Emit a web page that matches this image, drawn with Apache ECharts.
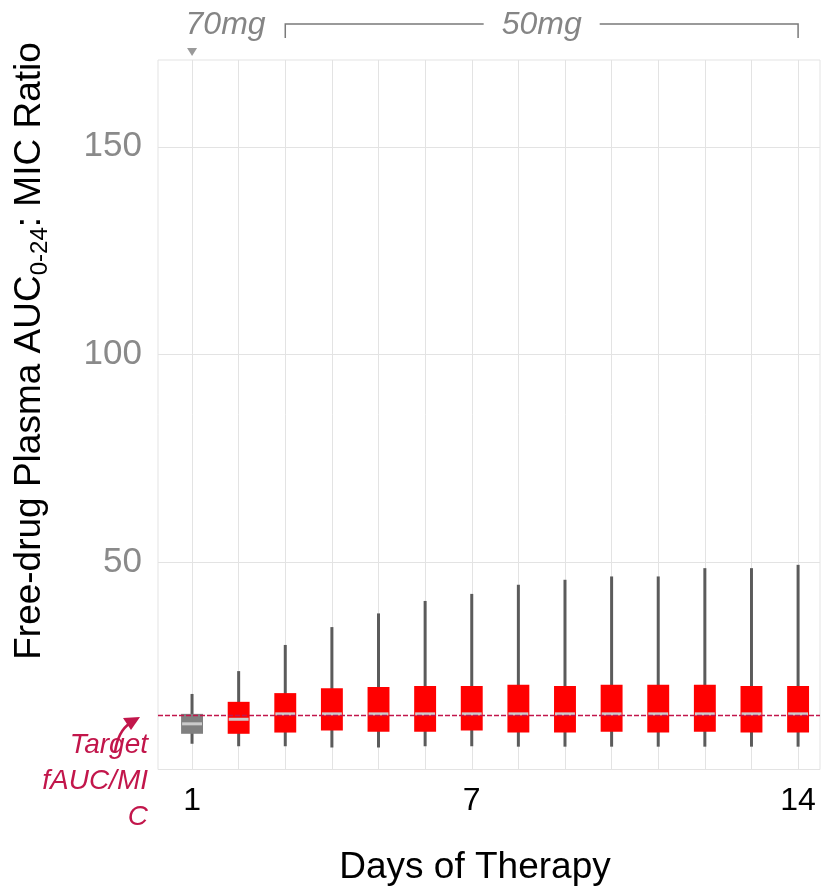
<!DOCTYPE html>
<html>
<head>
<meta charset="utf-8">
<script src="https://cdn.jsdelivr.net/npm/echarts@6/dist/echarts.min.js"></script>
<style>
  html, body { margin: 0; padding: 0; background: #ffffff; }
  #chart { width: 821px; height: 887px; }
</style>
</head>
<body>
<div id="chart"></div>
<script>
// Simulated free-drug plasma AUC0-24:MIC ratio by day of therapy
const days        = [1, 2, 3, 4, 5, 6, 7, 8, 9, 10, 11, 12, 13, 14];
const whiskerLow  = [6.2, 5.6, 5.6, 5.3, 5.3, 5.6, 5.6, 5.5, 5.5, 5.5, 5.5, 5.5, 5.5, 5.5];
const q1          = [8.6, 8.6, 8.9, 9.4, 9.1, 9.1, 9.4, 8.9, 8.9, 9.1, 8.9, 9.1, 8.9, 8.9];
const median      = [11.0, 12.1, 13.4, 13.4, 13.4, 13.4, 13.4, 13.4, 13.4, 13.4, 13.4, 13.4, 13.4, 13.4];
const q3          = [13.4, 16.3, 18.4, 19.6, 19.9, 20.1, 20.1, 20.4, 20.1, 20.4, 20.4, 20.4, 20.1, 20.1];
const whiskerHigh = [18.2, 23.7, 30.0, 34.3, 37.6, 40.6, 42.3, 44.5, 45.7, 46.5, 46.5, 48.5, 48.5, 49.3];
const dose        = ['70mg', '50mg', '50mg', '50mg', '50mg', '50mg', '50mg', '50mg', '50mg', '50mg', '50mg', '50mg', '50mg', '50mg'];
const targetRatio = 13.1;

const xTickDays  = [1, 2, 3, 4, 5, 6, 7, 8, 9, 10, 11, 12, 13, 14];
const xLabelDays = [1, 7, 14];
const yTickVals  = [50, 100, 150];

const doseColor = { '70mg': '#808080', '50mg': '#ff0000' };
const FONT = "'Liberation Sans', Arial, Helvetica, sans-serif";
const CRIMSON = '#c2164b';
const ANNOT_GREY = '#858585';

const chart = echarts.init(document.getElementById('chart'), null, { renderer: 'canvas' });

const boxData = days.map((d, i) => [d, whiskerLow[i], q1[i], median[i], q3[i], whiskerHigh[i], dose[i] === '70mg' ? 0 : 1]);

// Whisker line, filled inter-quartile box and a light median band per day
function renderBox(params, api) {
  const x = api.value(0);
  const lo = api.coord([x, api.value(1)]);
  const b1 = api.coord([x, api.value(2)]);
  const md = api.coord([x, api.value(3)]);
  const b3 = api.coord([x, api.value(4)]);
  const hi = api.coord([x, api.value(5)]);
  const fill = api.value(6) === 0 ? doseColor['70mg'] : doseColor['50mg'];
  const w = api.size([0.47, 0])[0];
  return {
    type: 'group',
    children: [
      { type: 'line', shape: { x1: lo[0], y1: lo[1], x2: hi[0], y2: hi[1] },
        style: { stroke: '#5b5b5b', lineWidth: 3 } },
      { type: 'rect', shape: { x: b3[0] - w / 2, y: b3[1], width: w, height: b1[1] - b3[1] },
        style: { fill: fill } },
      { type: 'rect', shape: { x: md[0] - w / 2 + 1, y: md[1] - 1.5, width: w - 2, height: 3 },
        style: { fill: '#cbcbcb' } }
    ]
  };
}

const option = {
  animation: false,
  backgroundColor: '#ffffff',
  grid: {
    left: 158, top: 60, width: 662, height: 709.5,
    show: true, borderColor: '#e3e3e3', borderWidth: 1,
    containLabel: false, outerBoundsMode: 'none'
  },
  xAxis: {
    type: 'value', min: 0.27, max: 14.47,
    axisLine: { show: false },
    axisTick: { show: false, customValues: xTickDays },
    axisLabel: {
      customValues: xLabelDays, color: '#000000', fontSize: 32, fontFamily: FONT, margin: 16
    },
    splitLine: { show: true, lineStyle: { color: '#e3e3e3', width: 1 } }
  },
  yAxis: {
    type: 'value', min: 0, max: 170.9,
    axisLine: { show: false },
    axisTick: { show: false, customValues: yTickVals },
    axisLabel: {
      customValues: yTickVals, color: '#8a8a8a', fontSize: 35, fontFamily: FONT, margin: 16
    },
    splitLine: { show: true, lineStyle: { color: '#e3e3e3', width: 1 } }
  },
  series: [
    {
      type: 'line', data: [], z: 1, silent: true,
      markLine: {
        silent: true, symbol: 'none', animation: false,
        label: { show: false },
        lineStyle: { color: CRIMSON, type: [5, 2], width: 1.3 },
        data: [{ yAxis: targetRatio }]
      }
    },
    {
      type: 'custom', z: 3, renderItem: renderBox, data: boxData,
      encode: { x: 0, y: [1, 2, 3, 4, 5] }
    }
  ]
};

chart.setOption(option);

// Annotations positioned from the axes' own scales
const px = (x, y) => chart.convertToPixel({ gridIndex: 0 }, [x, y]);
const day1 = px(1, 0)[0];
const day3 = px(3, 0)[0];
const day14 = px(14, 0)[0];
const label70 = px(1.72, 0)[0];
const bracketMid = (day3 + day14) / 2;
const targetY = px(1, targetRatio)[1];
const gridLeft = 158;

const tipX = gridLeft - 18, tipY = targetY + 2;

chart.setOption({
  graphic: [
    // axis titles
    {
      type: 'text', x: 475, y: 868,
      style: { text: 'Days of Therapy', align: 'center', verticalAlign: 'middle', fontSize: 37, fontFamily: FONT, fill: '#000000' }
    },
    {
      type: 'text', x: 30, y: 351, rotation: Math.PI / 2,
      style: {
        text: '{a|Free-drug Plasma AUC}{s|0-24}{a|: MIC Ratio}',
        align: 'center', verticalAlign: 'middle',
        rich: {
          a: { fontSize: 37, fontFamily: FONT, fill: '#000000', lineHeight: 44, verticalAlign: 'middle' },
          s: { fontSize: 24, fontFamily: FONT, fill: '#000000', lineHeight: 24, verticalAlign: 'bottom' }
        }
      }
    },
    // dose annotations above the panel
    {
      type: 'polygon', shape: { points: [[day1 - 5, 48], [day1 + 5, 48], [day1, 56]] },
      style: { fill: '#9a9a9a' }
    },
    {
      type: 'text', x: label70, y: 25,
      style: { text: '70mg', align: 'center', verticalAlign: 'middle', fontSize: 32, fontStyle: 'italic', fontFamily: FONT, fill: ANNOT_GREY }
    },
    {
      type: 'polyline', shape: { points: [[day3, 38], [day3, 24], [bracketMid - 58, 24]] },
      style: { stroke: '#7a7a7a', lineWidth: 1.5, fill: null }
    },
    {
      type: 'polyline', shape: { points: [[bracketMid + 58, 24], [day14, 24], [day14, 38]] },
      style: { stroke: '#7a7a7a', lineWidth: 1.5, fill: null }
    },
    {
      type: 'text', x: bracketMid, y: 25,
      style: { text: '50mg', align: 'center', verticalAlign: 'middle', fontSize: 32, fontStyle: 'italic', fontFamily: FONT, fill: ANNOT_GREY }
    },
    // target label and arrow
    {
      type: 'text', x: 148, y: 781,
      style: {
        text: 'Target\nfAUC/MI\nC', align: 'right', verticalAlign: 'middle',
        fontSize: 28, lineHeight: 36, fontStyle: 'italic', fontFamily: FONT, fill: CRIMSON
      }
    },
    {
      type: 'bezierCurve',
      shape: { x1: tipX - 25, y1: tipY + 35, cpx1: tipX - 22, cpy1: tipY + 14, x2: tipX - 10, y2: tipY + 6 },
      style: { stroke: CRIMSON, lineWidth: 2.5, fill: null }
    },
    {
      type: 'polygon',
      shape: { points: [[tipX, tipY], [tipX - 17, tipY + 1], [tipX - 9, tipY + 13]] },
      style: { fill: CRIMSON }
    }
  ]
});
</script>
</body>
</html>
